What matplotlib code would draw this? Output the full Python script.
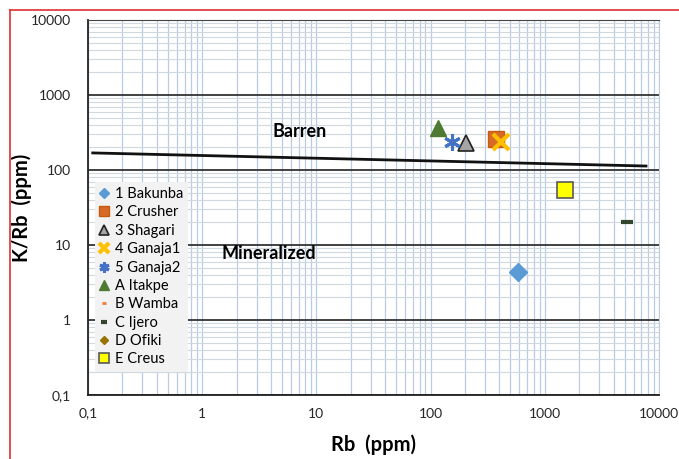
import matplotlib
matplotlib.use("Agg")
import matplotlib.pyplot as plt
from matplotlib.lines import Line2D
from matplotlib.ticker import FixedLocator, NullFormatter

plt.rcParams["font.family"] = ["Lato", "DejaVu Sans"]

# sample points (Rb ppm, K/Rb ppm)
labels = ["1 Bakunba", "2 Crusher", "3 Shagari", "4 Ganaja1", "5 Ganaja2",
          "A Itakpe", "B Wamba", "C Ijero", "D Ofiki", "E Creus"]
rb = [[580], [372], [203], [411], [153], [117], [], [5250], [], [1515]]
k_rb = [[4.4], [259], [232], [237], [237], [365], [], [20.5], [], [54]]

# barren / mineralized boundary
line_rb = [0.11, 7700]
line_krb = [169, 113]

major_ticks = [0.1, 1, 10, 100, 1000, 10000]
tick_labels = ["0,1", "1", "10", "100", "1000", "10000"]

styles = [
    dict(marker="D", ms=9, color="#5b9bd5", mec="#5b9bd5"),
    dict(marker="s", ms=11, color="#d86a28", mec="#c55a11"),
    dict(marker="^", ms=11, color="#a5a5a5", mec="#222222", mew=1.2),
    dict(marker="x", ms=11, color="#ffc000", mew=3),
    dict(marker=(6, 2, 0), ms=12, color="#4472c4", mew=2.2),
    dict(marker="^", ms=12, color="#4e7a34", mec="#4e7a34"),
    dict(marker="_", ms=6, color="#ed7d31", mew=2),
    dict(marker="_", ms=8, color="#33452c", mew=3),
    dict(marker="D", ms=7, color="#997300", mec="#997300"),
    dict(marker="s", ms=11, color="#ffff00", mec="#595959", mew=1.2),
]

fig = plt.figure(figsize=(6.79, 4.59), dpi=100)
ax = fig.add_axes([0.1296, 0.1394, 0.8409, 0.8170])
ax.set_xscale("log")
ax.set_yscale("log")
ax.set_xlim(0.1, 10000)
ax.set_ylim(0.1, 10000)

minor = [m * 10.0 ** e for e in range(-1, 4) for m in range(2, 10)]
ax.xaxis.set_major_locator(FixedLocator(major_ticks))
ax.yaxis.set_major_locator(FixedLocator(major_ticks))
ax.xaxis.set_minor_locator(FixedLocator(minor))
ax.yaxis.set_minor_locator(FixedLocator(minor))
ax.xaxis.set_minor_formatter(NullFormatter())
ax.yaxis.set_minor_formatter(NullFormatter())
ax.set_xticklabels(tick_labels)
ax.set_yticklabels(tick_labels)
ax.tick_params(which="both", length=0, labelsize=10, colors="#262626")
ax.tick_params(axis="x", pad=9)
ax.tick_params(axis="y", pad=12)

ax.grid(axis="x", which="both", color="#b8cce4", lw=0.9)
ax.grid(axis="y", which="minor", color="#d0d8e0", lw=0.8)
ax.grid(axis="y", which="major", color="#333333", lw=1.3)
ax.set_axisbelow(True)

for side in ["left", "bottom"]:
    ax.spines[side].set_color("#222222")
    ax.spines[side].set_linewidth(1.3)
ax.spines["top"].set_color("#444444")
ax.spines["right"].set_color("#b8cce4")

ax.plot(line_rb, line_krb, color="#111111", lw=2, zorder=3)

for name, xs, ys, st in zip(labels, rb, k_rb, styles):
    ax.plot(xs, ys, ls="none", label=name, zorder=4, **st)

ax.text(7.2, 330, "Barren", ha="center", va="center", fontsize=13, fontweight="bold")
ax.text(3.8, 7.8, "Mineralized", ha="center", va="center", fontsize=13, fontweight="bold")

ax.set_xlabel("Rb  (ppm)", fontsize=14.5, fontweight="bold", va="center")
ax.set_ylabel("K/Rb  (ppm)", fontsize=14.5, fontweight="bold", va="center")
ax.xaxis.set_label_coords(0.5, -0.133)
ax.yaxis.set_label_coords(-0.116, 0.5)

leg = ax.legend(loc="upper left", bbox_to_anchor=(0.012, 0.568), frameon=True,
                fontsize=10.5, markerscale=0.6, handlelength=0.6, handletextpad=0.4,
                borderpad=0.35, labelspacing=0.3, fancybox=False, borderaxespad=0)
leg.get_frame().set_facecolor("#f2f2f2")
leg.get_frame().set_edgecolor("none")
leg.get_frame().set_alpha(1)

# red page frame around the figure
fig.add_artist(Line2D([10 / 679, 10 / 679], [0, 1 - 10 / 459], color="#e03030", lw=1.2))
fig.add_artist(Line2D([10 / 679, 1], [1 - 10 / 459, 1 - 10 / 459], color="#e03030", lw=1.2))

fig.savefig("out.png", dpi=100)
